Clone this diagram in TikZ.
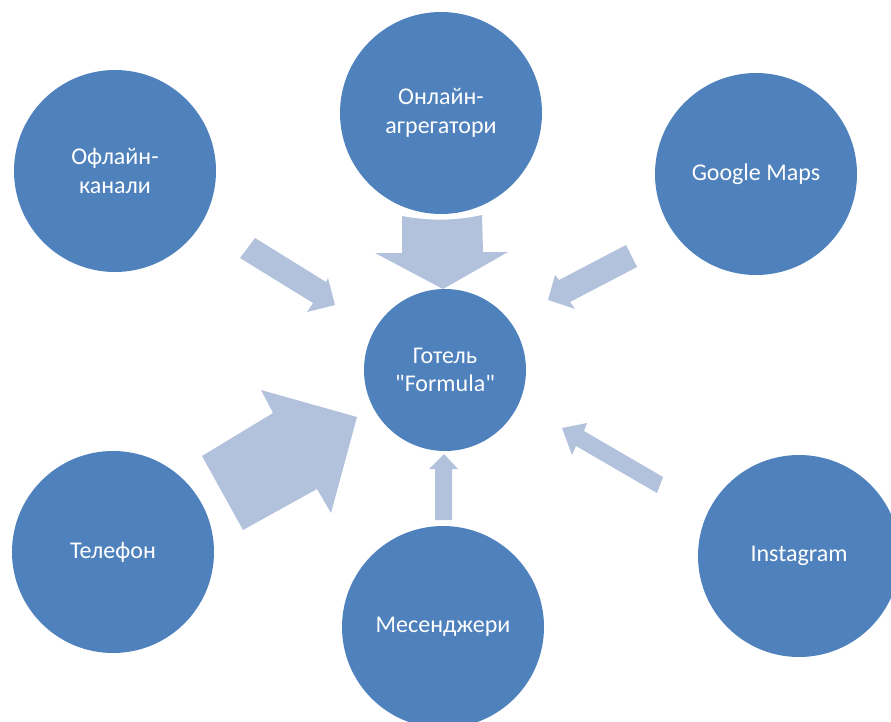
\documentclass[tikz,border=0pt]{standalone}
\usepackage{fontspec}
\setmainfont{Carlito}[Ligatures=TeXOff]
\definecolor{circblue}{HTML}{4F81BD}
\definecolor{arrowblue}{HTML}{B2C1DC}
\begin{document}
\begin{tikzpicture}[x=1pt,y=-1pt,
  bubble/.style={circle,fill=circblue,text=white,minimum size=202pt,inner sep=0pt,
    align=center,font=\fontsize{24}{28.5}\selectfont},
  hub/.style={bubble,minimum size=162pt},
  blockarrow/.style={fill=arrowblue}]
\useasboundingbox (0,0) rectangle (891,722);
% nodes
\node[hub]    (hotel)   at (445,370) {Готель\\"Formula"};
\node[bubble] (offline) at (115,171) {Офлайн-\\канали};
\node[bubble] (online)  at (441,113) {Онлайн-\\агрегатори};
\node[bubble] (google)  at (756,174) {Google Maps};
\node[bubble] (phone)   at (113,552) {Телефон};
\node[bubble] (mess)    at (443,627) {Месенджери};
\node[bubble] (insta)   at (799,556) {Instagram};
% block arrows
\fill[blockarrow] (402,216) .. controls (428,221) and (456,221) .. (482,215)
  -- (483,252) -- (508,252) -- (443,289) -- (375,253) -- (402,253) -- cycle;
\fill[blockarrow] (255,238) -- (326,282) -- (328,278) -- (335,305) -- (307,312)
  -- (313,303) -- (240,258) -- cycle;
\fill[blockarrow] (626,245) -- (559,280) -- (555,275) -- (548,300) -- (575,309)
  -- (570,302) -- (637,267) -- cycle;
\fill[blockarrow] (202,456) -- (273,413) -- (261,390) -- (357,417) -- (331,513)
  -- (317,489) -- (243,530) -- cycle;
\fill[blockarrow] (435,520) -- (435,469) -- (429,469) -- (444,454) -- (458,469)
  -- (452,469) -- (452,520) -- cycle;
\fill[blockarrow] (663,477) -- (584,431) -- (587,423) -- (562,428) -- (572,455)
  -- (576,446) -- (657,493) -- cycle;
\end{tikzpicture}
\end{document}
